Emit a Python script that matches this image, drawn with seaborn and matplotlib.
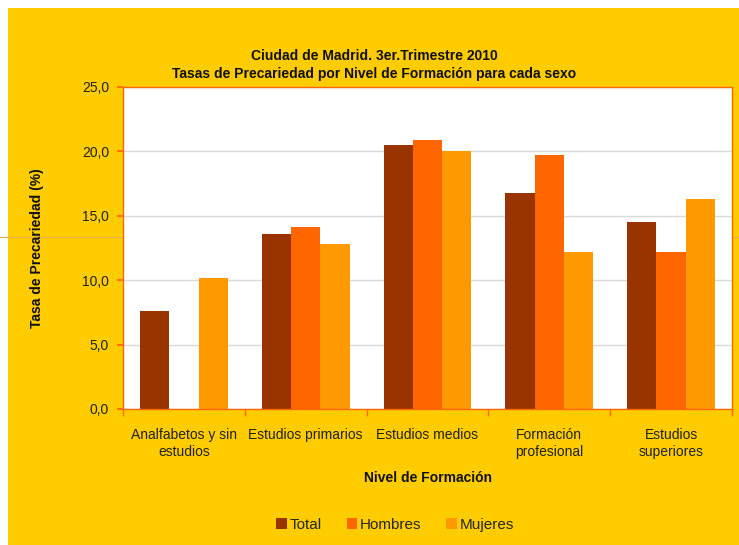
import numpy as np
import pandas as pd
import matplotlib
matplotlib.use("Agg")
import matplotlib.pyplot as plt
from matplotlib.patches import Rectangle
from matplotlib.lines import Line2D
import seaborn as sns

categories = ["Analfabetos y sin\nestudios", "Estudios primarios", "Estudios medios",
              "Formación\nprofesional", "Estudios\nsuperiores"]
series = ["Total", "Hombres", "Mujeres"]
total = [7.6, 13.6, 20.5, 16.8, 14.5]
hombres = [np.nan, 14.1, 20.9, 19.7, 12.2]
mujeres = [10.2, 12.8, 20.0, 12.2, 16.3]
colors = ["#993300", "#FF6600", "#FF9900"]
yticks = [0, 5, 10, 15, 20, 25]

df = pd.DataFrame({
    "Nivel": categories * 3,
    "Sexo": ["Total"] * 5 + ["Hombres"] * 5 + ["Mujeres"] * 5,
    "Tasa": total + hombres + mujeres,
})

sns.set_theme(style="white")
plt.rcParams["font.family"] = ["Liberation Sans", "DejaVu Sans"]

W, H = 739, 545
fig = plt.figure(figsize=(W / 100, H / 100), dpi=100)
fig.patch.set_facecolor("white")
fig.patches.append(Rectangle((8 / W, 0), 1 - 8 / W, 1 - 8 / H, transform=fig.transFigure,
                             facecolor="#FFCC00", edgecolor="none", zorder=0))
fig.lines.append(Line2D([0, 1], [1 - 237 / H, 1 - 237 / H], transform=fig.transFigure,
                        color="#E8B040", lw=0.8, zorder=0.5))

ax = fig.add_axes([123 / W, 1 - 409 / H, (732 - 123) / W, (409 - 87) / H])
ax.set_facecolor("white")
ax.set_zorder(2)

sns.barplot(data=df, x="Nivel", y="Tasa", hue="Sexo", hue_order=series, order=categories,
            palette=colors, width=0.72, saturation=1, linewidth=0, ax=ax, legend=True)

ax.set_ylim(0, 25)
ax.set_xlim(-0.5, 4.5)
ax.set_yticks(yticks)
ax.set_yticklabels([f"{v:.1f}".replace(".", ",") for v in yticks], fontsize=10, color="#222222")
ax.yaxis.grid(True, color="#D9D9D9", lw=1)
ax.set_axisbelow(True)
for s in ax.spines.values():
    s.set_color("#FF6600")
    s.set_linewidth(1)
ax.tick_params(axis="y", length=4, color="#FF6600", pad=6, left=True)
ax.set_xticks(range(5))
ax.set_xticklabels(categories, fontsize=10, color="#222222")
ax.tick_params(axis="x", length=0, pad=14)
ax.set_xticks(np.arange(-0.5, 5, 1), minor=True)
ax.tick_params(axis="x", which="minor", length=5, color="#FF6600", bottom=True)

ax.set_xlabel("Nivel de Formación", fontsize=10, fontweight="bold", labelpad=9, color="#111111")
ax.set_ylabel("Tasa de Precariedad (%)", fontsize=10, fontweight="bold", labelpad=27, color="#111111")

fig.text(374 / W, 1 - 56 / H, "Ciudad de Madrid. 3er.Trimestre 2010", ha="center", va="center",
         fontsize=10, fontweight="bold", color="#111111")
fig.text(374 / W, 1 - 74 / H, "Tasas de Precariedad por Nivel de Formación para cada sexo",
         ha="center", va="center", fontsize=10, fontweight="bold", color="#111111")

ax.get_legend().remove()
handles = [Rectangle((0, 0), 1, 1, facecolor=c, edgecolor="none") for c in colors]
fig.legend(handles, series, loc="center", bbox_to_anchor=(395 / W, 1 - 525 / H), ncol=3,
           frameon=False, fontsize=11, handlelength=0.7, handleheight=0.7,
           handletextpad=0.15, columnspacing=1.65)

fig.savefig("out.png", dpi=100, facecolor=fig.get_facecolor())
